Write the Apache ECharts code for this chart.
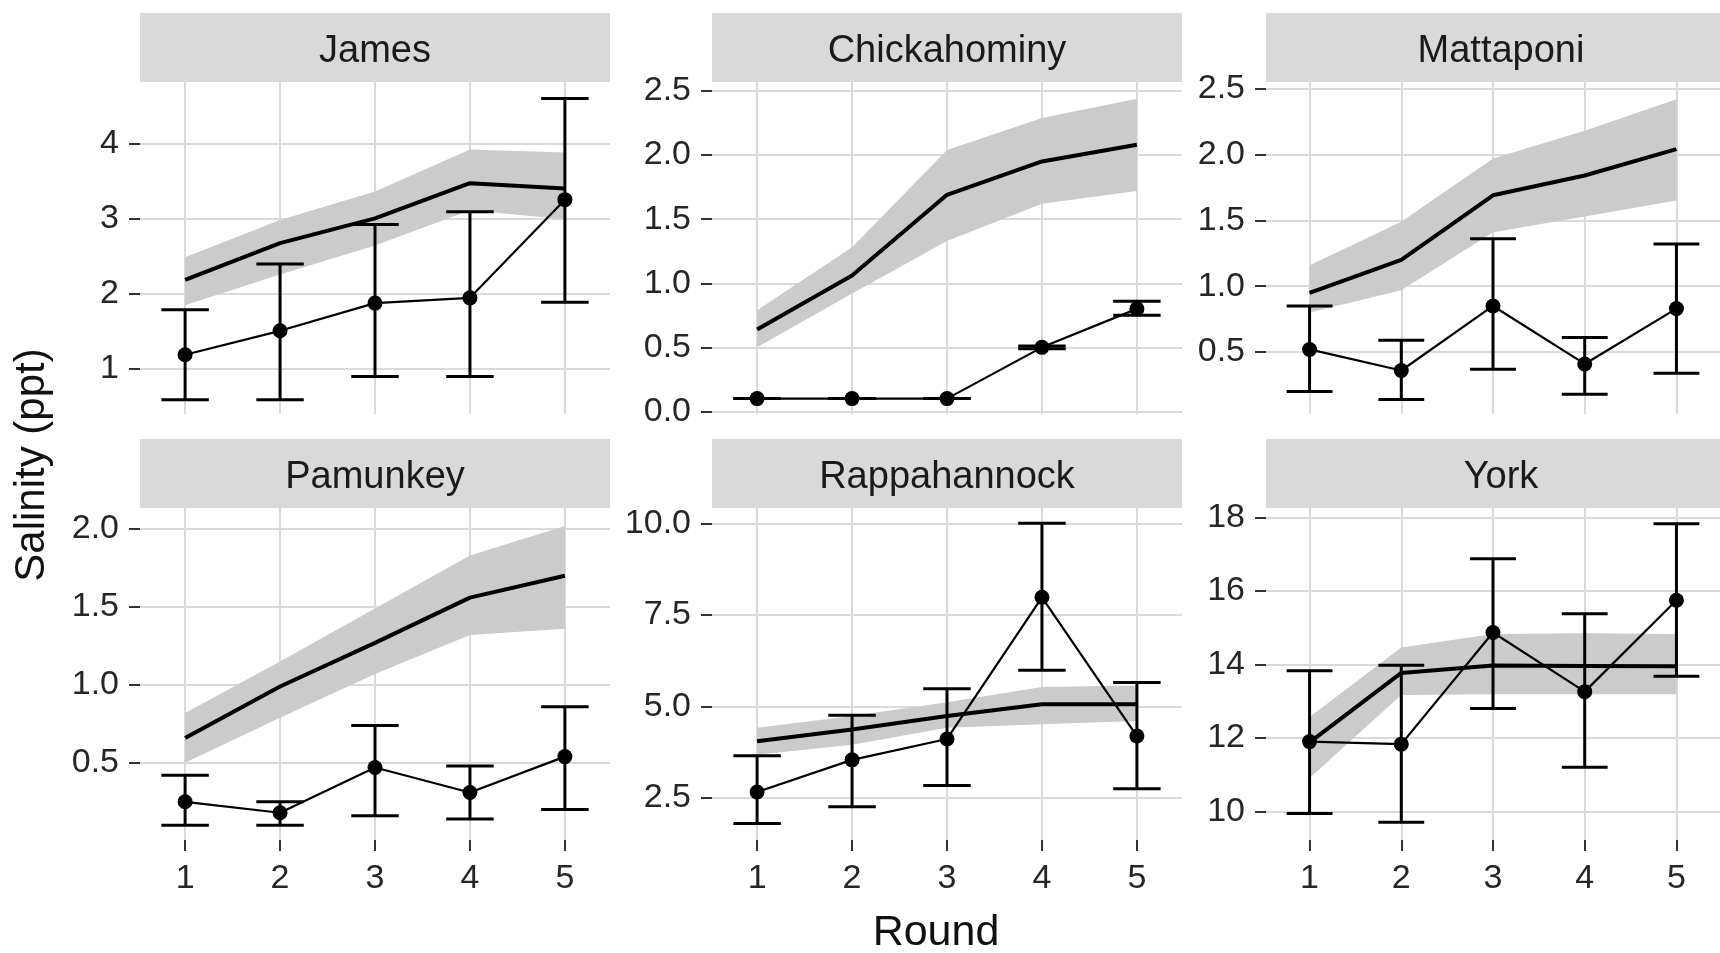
<!DOCTYPE html>
<html>
<head>
<meta charset="utf-8">
<script src="https://cdn.jsdelivr.net/npm/echarts@6/dist/echarts.min.js"></script>
<style>
  html, body { margin: 0; padding: 0; background: #fff; }
  #chart { width: 1720px; height: 953px; }
</style>
</head>
<body>
<div id="chart"></div>
<script>
const rounds = [1, 2, 3, 4, 5];
const rivers = ['James', 'Chickahominy', 'Mattaponi', 'Pamunkey', 'Rappahannock', 'York'];

// observed mean and error bar ends
const jamesObs = [1.18, 1.50, 1.87, 1.94, 3.25];
const jamesLo = [0.58, 0.58, 0.89, 0.89, 1.88];
const jamesHi = [1.78, 2.39, 2.92, 3.09, 4.60];
const chickObs = [0.10, 0.10, 0.10, 0.50, 0.80];
const chickLo = [0.10, 0.10, 0.10, 0.49, 0.75];
const chickHi = [0.10, 0.10, 0.10, 0.51, 0.86];
const mattObs = [0.52, 0.36, 0.85, 0.41, 0.83];
const mattLo = [0.20, 0.14, 0.37, 0.18, 0.34];
const mattHi = [0.85, 0.59, 1.36, 0.61, 1.32];
const pamObs = [0.25, 0.18, 0.47, 0.31, 0.54];
const pamLo = [0.10, 0.10, 0.16, 0.14, 0.20];
const pamHi = [0.42, 0.25, 0.74, 0.48, 0.86];
const rappObs = [2.66, 3.54, 4.11, 7.98, 4.19];
const rappLo = [1.80, 2.26, 2.84, 5.99, 2.75];
const rappHi = [3.65, 4.76, 5.48, 10.00, 5.65];
const yorkObs = [11.90, 11.83, 14.87, 13.26, 15.75];
const yorkLo = [9.94, 9.70, 12.80, 11.20, 13.68];
const yorkHi = [13.83, 13.98, 16.88, 15.38, 17.83];

// model prediction and its band
const jamesFit = [2.18, 2.67, 3.00, 3.47, 3.40];
const jamesBandLo = [1.84, 2.25, 2.64, 3.11, 2.99];
const jamesBandHi = [2.48, 2.98, 3.36, 3.92, 3.88];
const chickFit = [0.64, 1.06, 1.69, 1.95, 2.08];
const chickBandLo = [0.50, 0.92, 1.33, 1.62, 1.72];
const chickBandHi = [0.79, 1.28, 2.04, 2.29, 2.44];
const mattFit = [0.95, 1.20, 1.69, 1.84, 2.04];
const mattBandLo = [0.80, 0.97, 1.41, 1.53, 1.65];
const mattBandHi = [1.16, 1.49, 1.97, 2.18, 2.42];
const pamFit = [0.66, 0.99, 1.27, 1.56, 1.70];
const pamBandLo = [0.50, 0.79, 1.07, 1.32, 1.36];
const pamBandHi = [0.82, 1.15, 1.49, 1.83, 2.02];
const rappFit = [4.05, 4.37, 4.74, 5.06, 5.06];
const rappBandLo = [3.68, 3.95, 4.42, 4.51, 4.60];
const rappBandHi = [4.42, 4.74, 5.11, 5.53, 5.57];
const yorkFit = [11.88, 13.77, 13.97, 13.96, 13.95];
const yorkBandLo = [10.91, 13.17, 13.19, 13.19, 13.19];
const yorkBandHi = [12.57, 14.46, 14.83, 14.85, 14.83];

// y tick labels per panel
const jamesTicks = [1, 2, 3, 4];
const chickTicks = [0, 0.5, 1, 1.5, 2, 2.5];
const mattTicks = [0.5, 1, 1.5, 2, 2.5];
const pamTicks = [0.5, 1, 1.5, 2];
const rappTicks = [2.5, 5, 7.5, 10];
const yorkTicks = [10, 12, 14, 16, 18];

const panels = [
  { obs: jamesObs, lo: jamesLo, hi: jamesHi, fit: jamesFit, bLo: jamesBandLo, bHi: jamesBandHi, ticks: jamesTicks, dec: 0, min: 0.39, max: 4.82 },
  { obs: chickObs, lo: chickLo, hi: chickHi, fit: chickFit, bLo: chickBandLo, bHi: chickBandHi, ticks: chickTicks, dec: 1, min: -0.02, max: 2.57 },
  { obs: mattObs, lo: mattLo, hi: mattHi, fit: mattFit, bLo: mattBandLo, bHi: mattBandHi, ticks: mattTicks, dec: 1, min: 0.03, max: 2.55 },
  { obs: pamObs, lo: pamLo, hi: pamHi, fit: pamFit, bLo: pamBandLo, bHi: pamBandHi, ticks: pamTicks, dec: 1, min: 0.005, max: 2.135 },
  { obs: rappObs, lo: rappLo, hi: rappHi, fit: rappFit, bLo: rappBandLo, bHi: rappBandHi, ticks: rappTicks, dec: 1, min: 1.35, max: 10.42 },
  { obs: yorkObs, lo: yorkLo, hi: yorkHi, fit: yorkFit, bLo: yorkBandLo, bHi: yorkBandHi, ticks: yorkTicks, dec: 0, min: 9.22, max: 18.26 }
];

const colLeft = [140, 712, 1266];
const rowTop = [82, 508];
const panelW = 470;
const panelH = 332;
const stripH = 69;
const font = 'Liberation Sans, Arial, sans-serif';
const gridColor = '#dadada';
const tickColor = '#333';
const labelColor = '#262626';

const grid = [], xAxis = [], yAxis = [], series = [], graphic = [];

panels.forEach((p, i) => {
  const col = i % 3, row = Math.floor(i / 3);
  const left = colLeft[col], top = rowTop[row];
  grid.push({ left: left, top: top, width: panelW, height: panelH });

  xAxis.push({
    gridIndex: i, type: 'value', min: 0.525, max: 5.475,
    axisLine: { show: false },
    axisTick: { show: row === 1, customValues: rounds, length: 11, lineStyle: { color: tickColor, width: 2 } },
    axisLabel: { show: row === 1, customValues: rounds, margin: 22, fontSize: 34, color: labelColor, fontFamily: font },
    splitLine: { show: true, lineStyle: { color: gridColor, width: 2 } }
  });
  yAxis.push({
    gridIndex: i, type: 'value', min: p.min, max: p.max,
    axisLine: { show: false },
    axisTick: { show: true, customValues: p.ticks, length: 11, lineStyle: { color: tickColor, width: 2 } },
    axisLabel: {
      customValues: p.ticks, margin: 21, fontSize: 34, color: labelColor, fontFamily: font,
      formatter: v => v.toFixed(p.dec)
    },
    splitLine: { show: true, lineStyle: { color: gridColor, width: 2 } }
  });

  // model band
  series.push({
    type: 'custom', xAxisIndex: i, yAxisIndex: i, z: 1, silent: true,
    data: rounds.map((r, k) => [r, p.bLo[k], p.bHi[k]]),
    renderItem: (params, api) => {
      if (params.dataIndex !== 0) return;
      const upper = rounds.map((r, k) => api.coord([r, p.bHi[k]]));
      const lower = rounds.map((r, k) => api.coord([r, p.bLo[k]])).reverse();
      return { type: 'polygon', shape: { points: upper.concat(lower) }, style: { fill: '#cbcbcb' } };
    }
  });
  // model line
  series.push({
    type: 'line', xAxisIndex: i, yAxisIndex: i, z: 2, silent: true,
    data: rounds.map((r, k) => [r, p.fit[k]]),
    symbol: 'none', lineStyle: { color: '#000', width: 4 }
  });
  // observed line and points
  series.push({
    type: 'line', xAxisIndex: i, yAxisIndex: i, z: 3, silent: true,
    data: rounds.map((r, k) => [r, p.obs[k]]),
    symbol: 'circle', symbolSize: 15, showAllSymbol: true,
    itemStyle: { color: '#000' }, lineStyle: { color: '#000', width: 2.2 }
  });
  // error bars
  series.push({
    type: 'custom', xAxisIndex: i, yAxisIndex: i, z: 4, silent: true,
    data: rounds.map((r, k) => [r, p.lo[k], p.hi[k]]),
    renderItem: (params, api) => {
      const x = api.value(0);
      const a = api.coord([x, api.value(2)]);
      const b = api.coord([x, api.value(1)]);
      const half = api.size([0.5, 0])[0] / 2;
      const st = { stroke: '#000', lineWidth: 3 };
      return {
        type: 'group', children: [
          { type: 'line', shape: { x1: a[0], y1: a[1], x2: b[0], y2: b[1] }, style: st },
          { type: 'line', shape: { x1: a[0] - half, y1: a[1], x2: a[0] + half, y2: a[1] }, style: st },
          { type: 'line', shape: { x1: b[0] - half, y1: b[1], x2: b[0] + half, y2: b[1] }, style: st }
        ]
      };
    }
  });

  // facet strip
  graphic.push({
    type: 'rect', left: left, top: top - stripH, silent: true,
    shape: { width: panelW, height: stripH }, style: { fill: '#d9d9d9' }
  });
  graphic.push({
    type: 'text', x: left + panelW / 2, y: top - stripH / 2 + 4, silent: true,
    style: { text: rivers[i], font: '38px ' + font, fill: '#1a1a1a', align: 'center', verticalAlign: 'middle' }
  });
});

graphic.push({
  type: 'text', x: 936, y: 933, silent: true,
  style: { text: 'Round', font: '43px ' + font, fill: '#111', align: 'center', verticalAlign: 'middle' }
});
graphic.push({
  type: 'text', x: 32, y: 465, rotation: Math.PI / 2, silent: true,
  style: { text: 'Salinity (ppt)', font: '42px ' + font, fill: '#111', align: 'center', verticalAlign: 'middle' }
});

const myChart = echarts.init(document.getElementById('chart'));
myChart.setOption({
  animation: false,
  backgroundColor: '#fff',
  grid: grid,
  xAxis: xAxis,
  yAxis: yAxis,
  series: series,
  graphic: graphic
});
</script>
</body>
</html>
